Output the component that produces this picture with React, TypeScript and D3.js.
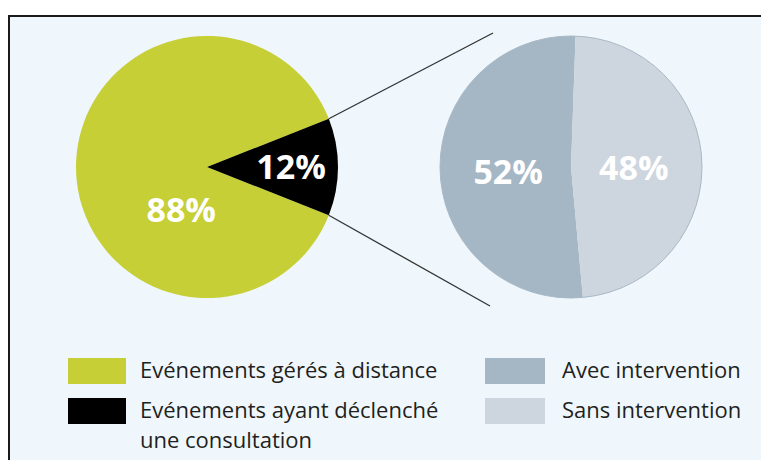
import React from "react";
import * as d3 from "d3";

const mainCategories = ["Evénements gérés à distance", "Evénements ayant déclenché une consultation"];
const mainValues = [88, 12];
const mainColors = ["#c6cf36", "#000000"];

const subCategories = ["Avec intervention", "Sans intervention"];
const subValues = [52, 48];
const subColors = ["#a5b7c5", "#cdd5de"];

const W = 761;
const H = 460;
const R = 131;
const leftC = { x: 207, y: 167 };
const rightC = { x: 571, y: 167 };
const deg = Math.PI / 180;

export default function App() {
  const smallAngle = (mainValues[1] / d3.sum(mainValues)) * 2 * Math.PI;
  const leftPie = d3
    .pie<number>()
    .sort(null)
    .value((d) => d)
    .startAngle(Math.PI / 2 + smallAngle / 2)
    .endAngle(Math.PI / 2 + smallAngle / 2 + 2 * Math.PI)(mainValues);

  const subStart = 2 * deg + Math.PI * 2 * (subValues[1] / d3.sum(subValues));
  const rightPie = d3
    .pie<number>()
    .sort(null)
    .value((d) => d)
    .startAngle(subStart)
    .endAngle(subStart + 2 * Math.PI)(subValues);

  const arc = d3.arc<d3.PieArcDatum<number>>().innerRadius(0).outerRadius(R);

  const small = leftPie[1];
  const p1 = [leftC.x + R * Math.sin(small.startAngle), leftC.y - R * Math.cos(small.startAngle)];
  const p2 = [leftC.x + R * Math.sin(small.endAngle), leftC.y - R * Math.cos(small.endAngle)];
  const q1 = [rightC.x - 78, rightC.y - 134];
  const q2 = [rightC.x - 81, rightC.y + 139];

  const leftLabelPos = [
    { a: 211, r: 50 },
    { a: 90, r: 84 },
  ];
  const polar = (c: { x: number; y: number }, a: number, r: number) => [
    c.x + r * Math.sin(a * deg),
    c.y - r * Math.cos(a * deg),
  ];

  const labelStyle: React.CSSProperties = {
    fontFamily: "'Open Sans', sans-serif",
    fontWeight: 700,
    fontSize: 34,
    fill: "#ffffff",
  };
  const legendStyle: React.CSSProperties = {
    fontFamily: "'Open Sans', sans-serif",
    fontSize: 22,
    fill: "#231f20",
  };

  const legendLeft = [
    { color: mainColors[0], lines: ["Evénements gérés à distance"], y: 358 },
    { color: mainColors[1], lines: ["Evénements ayant déclenché", "une consultation"], y: 398 },
  ];
  const legendRight = [
    { color: subColors[0], lines: [subCategories[0]], y: 358 },
    { color: subColors[1], lines: [subCategories[1]], y: 398 },
  ];

  const centroidArc = d3.arc<d3.PieArcDatum<number>>().innerRadius(0).outerRadius(R * 0.96);

  return (
    <svg
      width={W}
      height={H}
      style={{ position: "absolute", left: 0, top: 0, background: "#ffffff" }}
    >
      <rect x={9} y={16} width={W} height={H} fill="#eff7fc" stroke="#1a1a1a" strokeWidth={2} />

      <g transform={`translate(${leftC.x},${leftC.y})`}>
        {leftPie.map((d, i) => (
          <path key={i} d={arc(d) || ""} fill={mainColors[i]} />
        ))}
      </g>

      <g transform={`translate(${rightC.x},${rightC.y})`}>
        {rightPie.map((d, i) => (
          <path key={i} d={arc(d) || ""} fill={subColors[i]} />
        ))}
        <circle r={R} fill="none" stroke="#a9b9c6" strokeWidth={1} />
      </g>

      <line x1={p1[0]} y1={p1[1]} x2={q1[0]} y2={q1[1]} stroke="#333" strokeWidth={1.3} />
      <line x1={p2[0]} y1={p2[1]} x2={q2[0]} y2={q2[1]} stroke="#333" strokeWidth={1.3} />

      {mainValues.map((v, i) => {
        const [x, y] = polar(leftC, leftLabelPos[i].a, leftLabelPos[i].r);
        return (
          <text key={i} x={x} y={y} dy="0.36em" textAnchor="middle" style={labelStyle}>
            {v}%
          </text>
        );
      })}
      {rightPie.map((d, i) => {
        const [cx, cy] = centroidArc.centroid(d);
        return (
          <text key={i} x={rightC.x + cx} y={rightC.y + cy + 3} dy="0.36em" textAnchor="middle" style={labelStyle}>
            {subValues[i]}%
          </text>
        );
      })}

      {legendLeft.map((l, i) => (
        <g key={i}>
          <rect x={68} y={l.y} width={58} height={26} fill={l.color} />
          {l.lines.map((t, j) => (
            <text key={j} x={140} y={l.y + 20 + j * 30} style={legendStyle}>
              {t}
            </text>
          ))}
        </g>
      ))}
      {legendRight.map((l, i) => (
        <g key={i}>
          <rect x={485} y={l.y} width={60} height={26} fill={l.color} />
          {l.lines.map((t, j) => (
            <text key={j} x={562} y={l.y + 20 + j * 30} style={legendStyle}>
              {t}
            </text>
          ))}
        </g>
      ))}
    </svg>
  );
}
